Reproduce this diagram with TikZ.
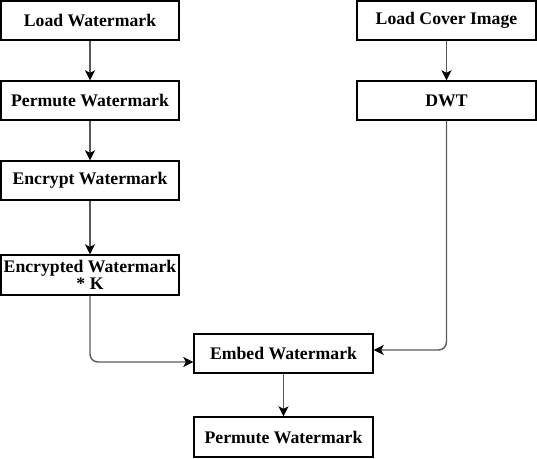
\documentclass[tikz,border=0pt]{standalone}
\usepackage{fontspec}
\setmainfont{Liberation Serif}
\usetikzlibrary{arrows.meta}
\begin{document}
\begin{tikzpicture}[x=1pt,y=-1pt,
  box/.style={draw=black,line width=1.4pt,rectangle,minimum width=178pt,minimum height=39pt,inner sep=0pt,align=center,font=\fontsize{17.7}{17}\selectfont\bfseries},
  conn/.style={draw=black!65,line width=1.4pt,rounded corners=8pt,-{Stealth[length=10pt,width=10pt,inset=2.5pt,fill=black,color=black]}}]
\useasboundingbox (0,0) rectangle (537,458);
\node[box] (lw) at (90,20.5) {Load Watermark};
\node[box] (pw) at (90,100.5) {Permute Watermark};
\node[box] (ew) at (90,180.5) {Encrypt Watermark};
\node[box,minimum height=40pt] (ek) at (90,275) {Encrypted Watermark\\* K};
\node[box,minimum width=179pt] (lc) at (446.5,20.5) {Load Cover Image};
\node[box,minimum width=179pt] (dwt) at (446.5,100.5) {DWT};
\node[box,minimum width=179pt] (emb) at (283.5,353.5) {Embed Watermark};
\node[box,minimum width=179pt,minimum height=40pt] (pw2) at (283.5,437) {Permute Watermark};
\draw[conn] (lw) -- (pw);
\draw[conn] (pw) -- (ew);
\draw[conn] (ew) -- (ek);
\draw[conn] (lc) -- (dwt);
\draw[conn] (emb) -- (pw2);
\draw[conn] (ek.south) |- ([yshift=-8.5pt]emb.west);
\draw[conn] (dwt.south) |- ([yshift=3.5pt]emb.east);
\end{tikzpicture}
\end{document}
